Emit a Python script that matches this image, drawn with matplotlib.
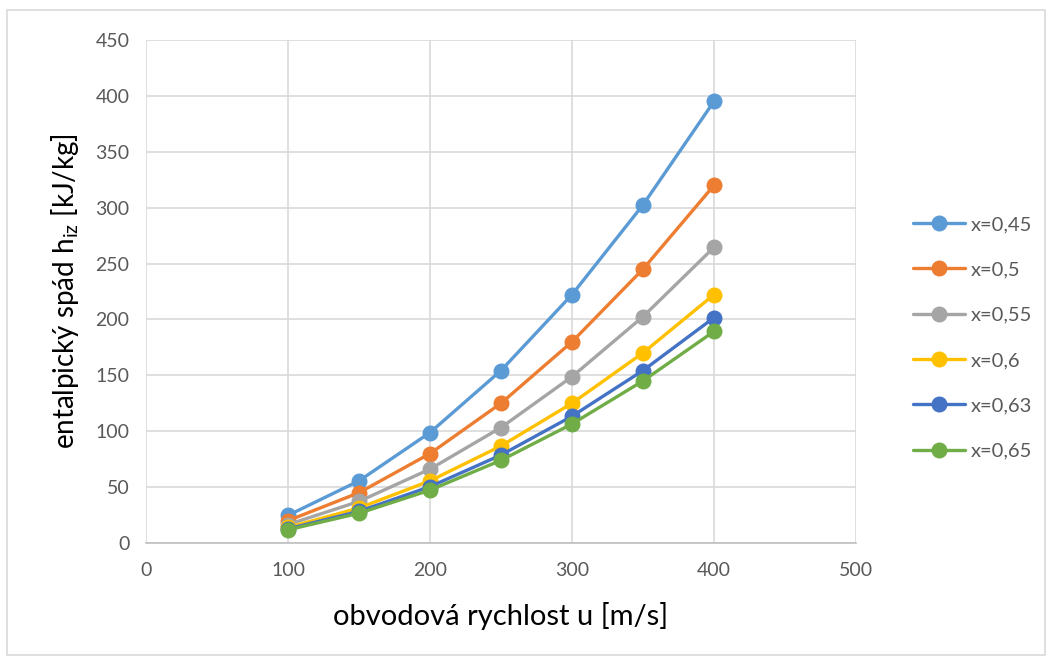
import matplotlib
matplotlib.use("Agg")
import matplotlib.pyplot as plt
from matplotlib.patches import Rectangle

u = [100, 150, 200, 250, 300, 350, 400]
labels = ["x=0,45", "x=0,5", "x=0,55", "x=0,6", "x=0,63", "x=0,65"]
h_045 = [24.7, 55.6, 98.8, 154.3, 222.2, 302.5, 395.1]
h_050 = [20.0, 45.0, 80.0, 125.0, 180.0, 245.0, 320.0]
h_055 = [16.5, 37.2, 66.1, 103.3, 148.8, 202.5, 264.5]
h_060 = [13.9, 31.3, 55.6, 86.8, 125.0, 170.1, 222.2]
h_063 = [12.6, 28.3, 50.4, 78.7, 113.4, 154.3, 201.6]
h_065 = [11.8, 26.6, 47.3, 74.0, 106.5, 145.0, 189.3]
series = [h_045, h_050, h_055, h_060, h_063, h_065]
colors = ["#5B9BD5", "#ED7D31", "#A5A5A5", "#FFC000", "#4472C4", "#70AD47"]
xticks = [0, 100, 200, 300, 400, 500]
yticks = [0, 50, 100, 150, 200, 250, 300, 350, 400, 450]

plt.rcParams['font.family'] = ['Lato', 'DejaVu Sans']

fig = plt.figure(figsize=(10.52, 6.6), dpi=100)
fig.patches.append(Rectangle((7/1052, 5/660), 1038/1052, 645/660, transform=fig.transFigure,
                             fill=False, edgecolor="#D9D9D9", linewidth=1.2))
ax = fig.add_axes([146/1052, (660-543)/660, 710/1052, 503/660])

for ys, c, lab in zip(series, colors, labels):
    ax.plot(u, ys, color=c, linewidth=2.4, marker='o', markersize=10.5, label=lab,
            solid_capstyle='round', zorder=3)

ax.set_xlim(0, 500)
ax.set_ylim(0, 450)
ax.set_xticks(xticks)
ax.set_yticks(yticks)
ax.grid(True, color="#D9D9D9", linewidth=1.2)
ax.set_axisbelow(True)
for s in ["top", "right", "left"]:
    ax.spines[s].set_visible(False)
ax.spines["bottom"].set_color("#BFBFBF")
ax.spines["bottom"].set_linewidth(1.2)
ax.tick_params(axis='both', length=0, labelsize=14, labelcolor="#595959")
ax.tick_params(axis='x', pad=14)
ax.tick_params(axis='y', pad=12)

ax.set_xlabel("obvodová rychlost u [m/s]", fontsize=21, color="#000000", labelpad=16)
ax.set_ylabel("entalpický spád h$_{\\mathregular{iz}}$ [kJ/kg]", fontsize=20, color="#000000", labelpad=10)

leg = fig.legend(loc='center left', bbox_to_anchor=(913/1052, 0.488), bbox_transform=fig.transFigure,
                 frameon=False, fontsize=14.5, labelcolor="#595959", handlelength=2.6,
                 handletextpad=0.25, labelspacing=1.4, borderaxespad=0, borderpad=0)

fig.savefig("out.png", dpi=100)
